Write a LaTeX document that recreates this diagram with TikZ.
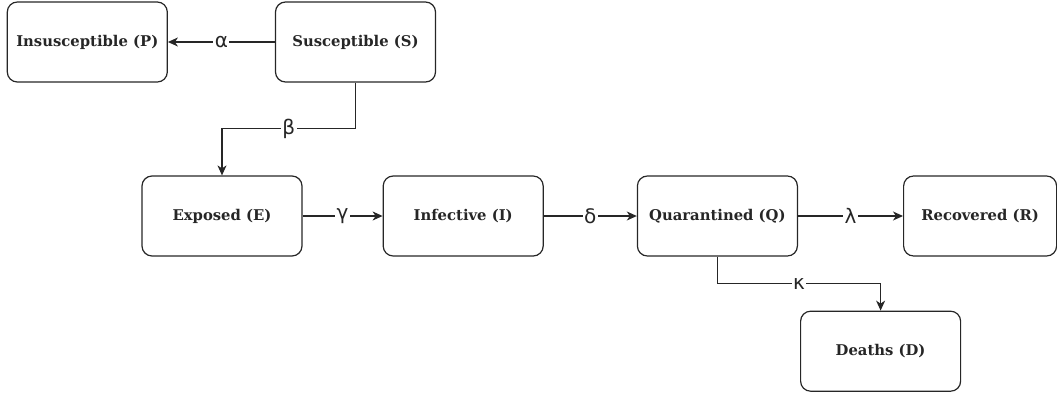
\documentclass[tikz,border=0pt]{standalone}
\usepackage{fontspec}
\setmainfont{DejaVu Serif}
\setsansfont{DejaVu Sans}
\usetikzlibrary{arrows.meta,positioning}

\begin{document}
\begin{tikzpicture}[x=1pt,y=1pt,>={Stealth[length=10pt,width=9pt,inset=3pt]},
                    line width=1.2pt,color=black!85,
                    compartment/.style={draw,rounded corners=10pt,minimum width=160pt,
                      minimum height=80pt,font=\fontsize{14.8}{17}\selectfont\bfseries},
                    rate/.style={fill=white,inner sep=1.5pt,font=\fontsize{20}{22}\sffamily}]

  \useasboundingbox (0,0) rectangle (1057,-394);

  \node[compartment]   (S) at (355.5,-42)         {Susceptible (S)};
  \node[compartment]   (P) [left=107pt of S]      {Insusceptible (P)};
  \node[compartment]   (E) at (222,-216)          {Exposed (E)};
  \node[compartment]   (I) [right=80pt of E]      {Infective (I)};
  \node[compartment]   (Q) [right=93pt of I]      {Quarantined (Q)};
  \node[compartment,minimum width=153pt]
                       (R) [right=105pt of Q]     {Recovered (R)};
  \node[compartment]   (D) [below right=54pt and 2pt of Q] {Deaths (D)};

  \draw[->] (S) -- node[rate] {α} (P);
  \draw[->] (S.south) -- ++(0,-46) -| node[rate,pos=0.25] {β} (E.north);
  \draw[->] (E) -- node[rate] {γ} (I);
  \draw[->] (I) -- node[rate] {δ} (Q);
  \draw[->] (Q) -- node[rate] {λ} (R);
  \draw[->] (Q.south) -- ++(0,-27) -| node[rate,pos=0.25] {κ} (D.north);
\end{tikzpicture}
\end{document}
